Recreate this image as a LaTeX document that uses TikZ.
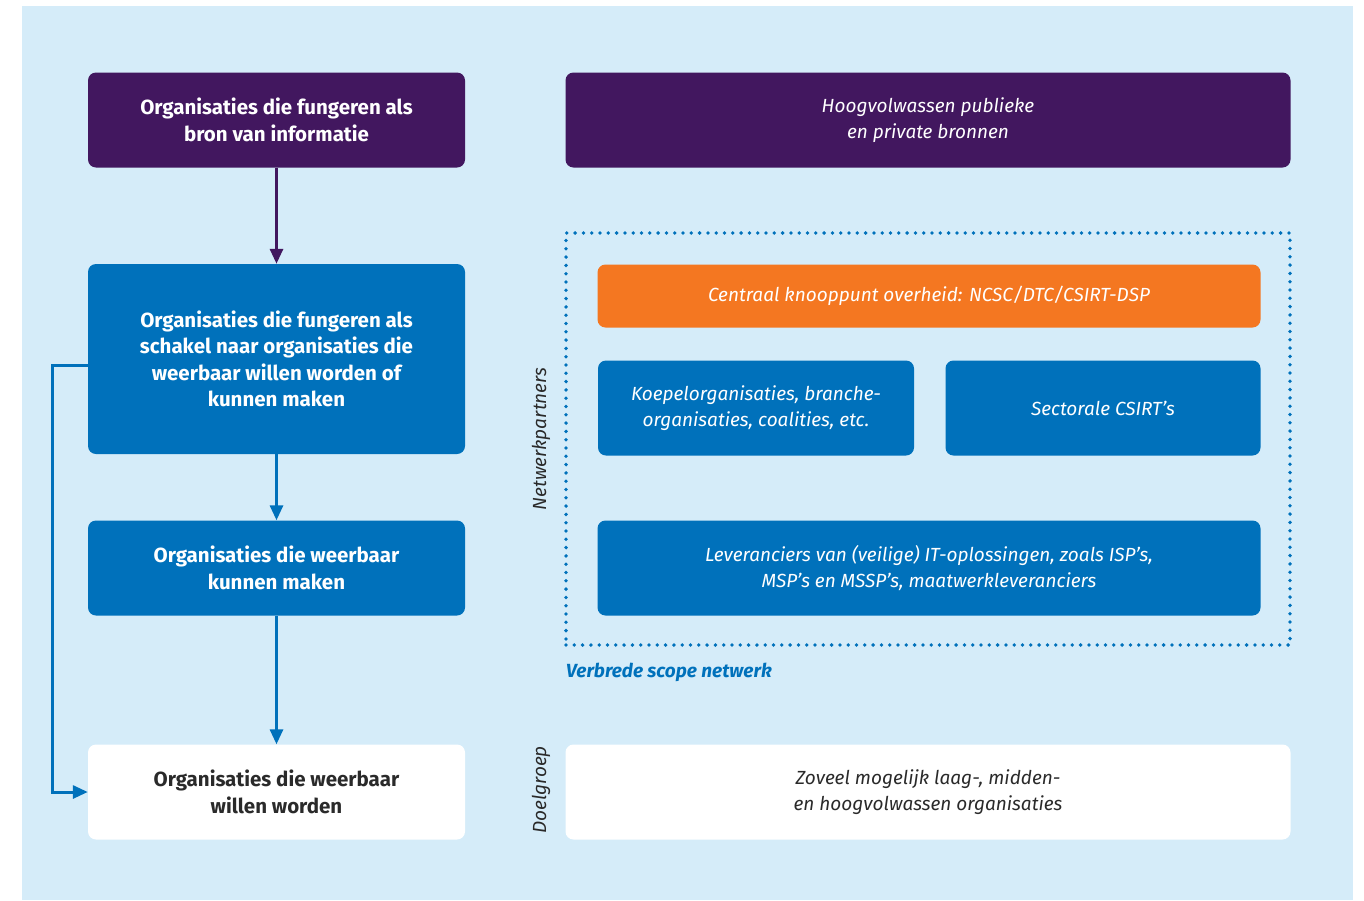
\documentclass[tikz,border=0pt]{standalone}
\usepackage{fontspec}
\setmainfont{Fira Sans}
\usetikzlibrary{arrows.meta}
\definecolor{bgblue}{HTML}{D5ECF9}
\definecolor{rpurple}{HTML}{42175F}
\definecolor{rblue}{HTML}{0071BB}
\definecolor{rorange}{HTML}{F47721}
\definecolor{dgray}{HTML}{2A2A2A}
\tikzset{
  box/.style={rounded corners=8pt, inner sep=0pt, align=center,
    font=\fontsize{18}{26}\selectfont},
  leftbox/.style={box, minimum width=377pt, font=\fontsize{20.5}{26.5}\selectfont\bfseries},
  rightbox/.style={box, font=\fontsize{19}{26.5}\selectfont\itshape},
  purplefill/.style={fill=rpurple, text=white},
  bluefill/.style={fill=rblue, text=white},
  whitefill/.style={fill=white, text=dgray},
  orangefill/.style={fill=rorange, text=white},
  flow/.style={line width=3pt, -{Triangle[length=15pt,width=13pt]}},
  sidelabel/.style={rotate=90, text=dgray, font=\fontsize{19}{22}\selectfont\itshape},
  scopebox/.style={draw=rblue, line width=3.8pt, line cap=round, dash pattern=on 0pt off 8.3pt}
}
\begin{document}
\begin{tikzpicture}[x=1pt,y=-1pt]
\useasboundingbox (0,0) rectangle (1364,900);
\fill[bgblue] (22,6) rectangle (1353,900);
% left column
\node[leftbox, purplefill, minimum height=95pt] (a) at (276.5,120) {Organisaties die fungeren als\\bron van informatie};
\node[leftbox, bluefill, minimum height=190pt] (b) at (276.5,359) {Organisaties die fungeren als\\schakel naar organisaties die\\weerbaar willen worden of\\kunnen maken};
\node[leftbox, bluefill, minimum height=95pt] (c) at (276.5,568) {Organisaties die weerbaar\\kunnen maken};
\node[leftbox, whitefill, minimum height=95pt] (d) at (276.5,792) {Organisaties die weerbaar\\willen worden};
\draw[flow, rpurple] (a.south) -- (b.north);
\draw[flow, rblue] (b.south) -- (c.north);
\draw[flow, rblue] (c.south) -- (d.north);
\draw[flow, rblue] ([yshift=-6pt]b.west) -- ++(-35,0) |- (d.west);
% right column
\node[rightbox, purplefill, minimum width=725pt, minimum height=95pt] (e) at (928,120) {Hoogvolwassen publieke\\en private bronnen};
\node[scopebox, minimum width=724pt, minimum height=412pt, inner sep=0pt] (scope) at (928,439) {};
\node[rightbox, orangefill, minimum width=663pt, minimum height=63pt] (f) at (929,296) {Centraal knooppunt overheid: NCSC/DTC/CSIRT-DSP};
\node[rightbox, bluefill, minimum width=316pt, minimum height=95pt] (g) at (756,408) {Koepelorganisaties, branche-\\organisaties, coalities, etc.};
\node[rightbox, bluefill, minimum width=315pt, minimum height=95pt] (h) at (1103,408) {Sectorale CSIRT’s};
\node[rightbox, bluefill, minimum width=663pt, minimum height=95pt] (i) at (929,568) {Leveranciers van (veilige) IT-oplossingen, zoals ISP’s,\\MSP’s en MSSP’s, maatwerkleveranciers};
\node[anchor=west, inner sep=0pt, text=rblue, font=\fontsize{19}{22}\selectfont\bfseries\itshape] (j) at (566,672) {Verbrede scope netwerk};
\node[sidelabel] (k) at (541,439) {Netwerkpartners};
\node[rightbox, whitefill, minimum width=725pt, minimum height=95pt] (l) at (928,792) {Zoveel mogelijk laag-, midden-\\en hoogvolwassen organisaties};
\node[sidelabel] (m) at (541,790) {Doelgroep};
\end{tikzpicture}
\end{document}
